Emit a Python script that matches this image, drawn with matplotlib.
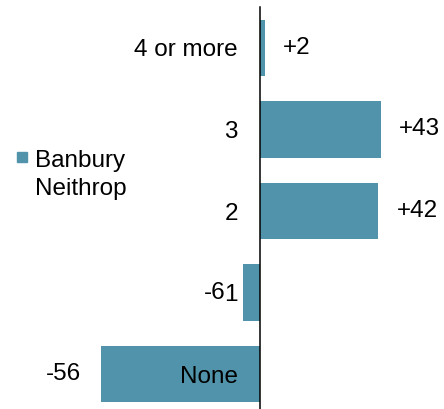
import matplotlib
matplotlib.use("Agg")
import matplotlib.pyplot as plt
from matplotlib.patches import Rectangle

categories = ["4 or more", "3", "2", "1", "None"]
values = [2, 43, 42, -6, -56]
series_name = "Banbury\nNeithrop"
color = "#5093AA"

plt.rcParams['font.family'] = ['Liberation Sans', 'DejaVu Sans']
FS = 17.5

W, H = 444, 409
fig = plt.figure(figsize=(W / 100, H / 100), dpi=100)
ax = fig.add_axes([0, (H - 415) / H, 1, 408 / H])

y = list(range(len(categories)))
ax.barh(y, values, height=0.69, color=color, zorder=1)
ax.set_xlim(-259.5 / 2.83, 184.5 / 2.83)
ax.set_ylim(len(categories) - 0.5, -0.5)

for s in ["top", "right", "bottom"]:
    ax.spines[s].set_visible(False)
ax.spines["left"].set_position(("data", 0))
ax.spines["left"].set_linewidth(1.1)
ax.spines["left"].set_zorder(3)
ax.set_xticks([])
ax.set_yticks(y)
ax.set_yticklabels(categories, fontsize=FS)
ax.tick_params(axis="y", length=0, pad=15.5)
ax.set_axisbelow(False)

for yi, v in zip(y, values):
    lbl = f"+{v}" if v > 0 else f"{v}"
    if v >= 0:
        ax.annotate(lbl, (v, yi), xytext=(13, 0), textcoords="offset points",
                    ha="left", va="center", fontsize=FS)
    else:
        off = -14.5 if v < -10 else -12.5
        ax.annotate(lbl, (v, yi), xytext=(off, 0), textcoords="offset points",
                    ha="right", va="center", fontsize=FS)

# legend
fig.add_artist(Rectangle((17 / W, 1 - 162 / H), 10 / W, 10 / H,
                         transform=fig.transFigure, color=color))
for i, line in enumerate(series_name.split("\n")):
    fig.text(35 / W, 1 - (167 + 28 * i) / H, line, fontsize=FS, ha="left",
             va="baseline", transform=fig.transFigure)

fig.savefig("out.png", dpi=100)
